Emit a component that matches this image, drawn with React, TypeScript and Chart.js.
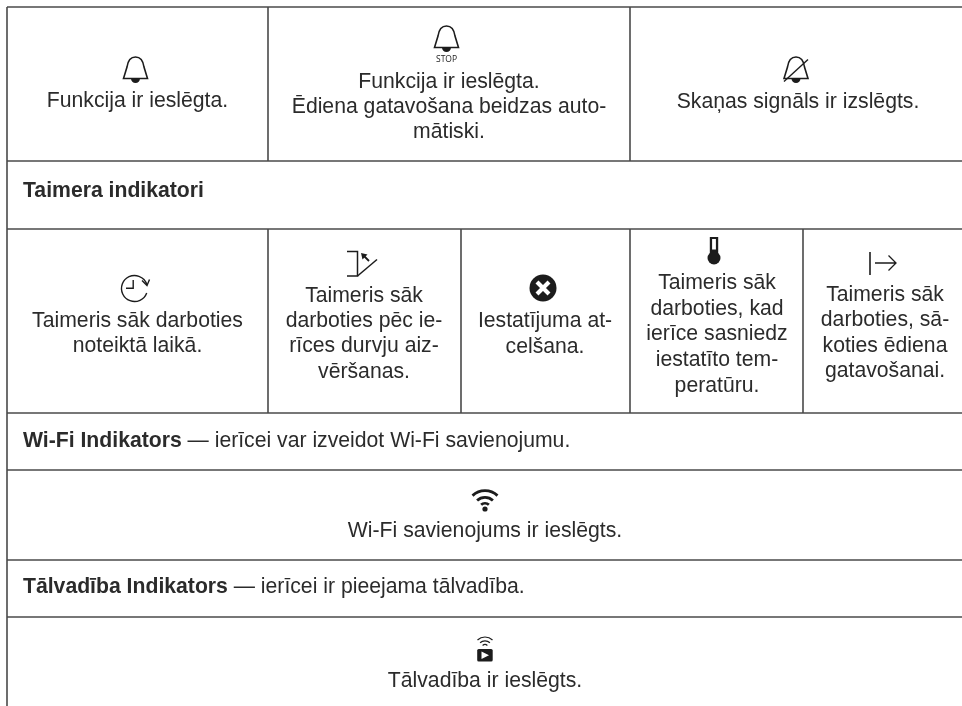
import React, { useEffect, useRef } from "react";
import { Chart, registerables } from "chart.js";

Chart.register(...registerables);

const pageWidth = 962;
const pageHeight = 706;
const tableLeft = 7;
const ruleColor = "#4a4a4a";
const inkColor = "#2b2b2b";
const fontFamily = '"Liberation Sans", Arial, sans-serif';
const fontSize = 21.2;

const horizontalRules = [7, 161, 229, 413, 470, 560, 617];
const verticalRules: [number, number, number][] = [
  [7, 7, 706],
  [268, 7, 161],
  [630, 7, 161],
  [268, 229, 413],
  [461, 229, 413],
  [630, 229, 413],
  [803, 229, 413],
];

const centredCells: { x: number; lines: [string, number][] }[] = [
  { x: 137.5, lines: [["Funkcija ir ieslēgta.", 107]] },
  {
    x: 449,
    lines: [
      ["Funkcija ir ieslēgta.", 88],
      ["Ēdiena gatavošana beidzas auto-", 113],
      ["mātiski.", 138],
    ],
  },
  { x: 798, lines: [["Skaņas signāls ir izslēgts.", 108]] },
  {
    x: 137.5,
    lines: [
      ["Taimeris sāk darboties", 327],
      ["noteiktā laikā.", 352],
    ],
  },
  {
    x: 364,
    lines: [
      ["Taimeris sāk", 302],
      ["darboties pēc ie-", 327],
      ["rīces durvju aiz-", 352],
      ["vēršanas.", 378],
    ],
  },
  {
    x: 545,
    lines: [
      ["Iestatījuma at-", 327],
      ["celšana.", 353],
    ],
  },
  {
    x: 717,
    lines: [
      ["Taimeris sāk", 289],
      ["darboties, kad", 315],
      ["ierīce sasniedz", 340],
      ["iestatīto tem-", 366],
      ["peratūru.", 392],
    ],
  },
  {
    x: 885,
    lines: [
      ["Taimeris sāk", 301],
      ["darboties, sā-", 326],
      ["koties ēdiena", 352],
      ["gatavošanai.", 377],
    ],
  },
  { x: 485, lines: [["Wi-Fi savienojums ir ieslēgts.", 537]] },
  { x: 485, lines: [["Tālvadība ir ieslēgts.", 687]] },
];

const headingRows: { x: number; y: number; bold: string; rest: string }[] = [
  { x: 23, y: 197, bold: "Taimera indikatori", rest: "" },
  { x: 23, y: 447, bold: "Wi-Fi Indikators", rest: " — ierīcei var izveidot Wi-Fi savienojumu." },
  { x: 23, y: 593, bold: "Tālvadība Indikators", rest: " — ierīcei ir pieejama tālvadība." },
];

type IconName = "bell" | "bellStop" | "bellMuted" | "clock" | "door" | "cancel" | "thermo" | "start" | "wifi" | "remote";
const icons: { name: IconName; x: number; y: number }[] = [
  { name: "bell", x: 135.5, y: 57 },
  { name: "bellStop", x: 446.5, y: 26 },
  { name: "bellMuted", x: 796, y: 57 },
  { name: "clock", x: 134.5, y: 288.5 },
  { name: "door", x: 347, y: 251 },
  { name: "cancel", x: 543, y: 288 },
  { name: "thermo", x: 714, y: 237 },
  { name: "start", x: 870, y: 252 },
  { name: "wifi", x: 485, y: 509 },
  { name: "remote", x: 485, y: 637 },
];

function bellPath(ctx: CanvasRenderingContext2D) {
  ctx.lineWidth = 1.6;
  ctx.beginPath();
  ctx.moveTo(-12, 21.5);
  ctx.lineTo(-8.5, 10);
  ctx.bezierCurveTo(-7.5, 3, -4.5, 0, 0, 0);
  ctx.bezierCurveTo(4.5, 0, 7.5, 3, 8.5, 10);
  ctx.lineTo(12, 21.5);
  ctx.closePath();
  ctx.stroke();
  ctx.beginPath();
  ctx.arc(0, 21.5, 4.5, 0, Math.PI);
  ctx.fill();
}

function drawIcon(ctx: CanvasRenderingContext2D, name: IconName) {
  ctx.strokeStyle = "#1c1c1c";
  ctx.fillStyle = "#1c1c1c";
  ctx.lineCap = "butt";
  ctx.lineJoin = "miter";
  if (name === "bell") bellPath(ctx);
  if (name === "bellStop") {
    bellPath(ctx);
    ctx.font = `8.5px "Open Sans", ${fontFamily}`;
    ctx.textAlign = "center";
    ctx.textBaseline = "alphabetic";
    ctx.fillText("STOP", 0, 36);
  }
  if (name === "bellMuted") {
    bellPath(ctx);
    ctx.lineWidth = 1.4;
    ctx.beginPath();
    ctx.moveTo(-12, 24.5);
    ctx.lineTo(12, 2.5);
    ctx.stroke();
  }
  if (name === "clock") {
    ctx.lineWidth = 1.4;
    ctx.beginPath();
    ctx.arc(0, 0, 13, 0.35, Math.PI * 2 - 0.3);
    ctx.stroke();
    ctx.beginPath();
    ctx.moveTo(-1.3, -8.5);
    ctx.lineTo(-1.3, -0.3);
    ctx.lineTo(-8.5, -0.3);
    ctx.stroke();
    ctx.beginPath();
    ctx.moveTo(7.5, -8);
    ctx.lineTo(12.5, -3);
    ctx.lineTo(15, -9);
    ctx.stroke();
  }
  if (name === "door") {
    ctx.lineWidth = 1.5;
    ctx.beginPath();
    ctx.moveTo(0, 0.5);
    ctx.lineTo(10.5, 0.5);
    ctx.lineTo(10.5, 25);
    ctx.lineTo(0, 25);
    ctx.stroke();
    ctx.beginPath();
    ctx.moveTo(10.5, 25);
    ctx.lineTo(30, 8.5);
    ctx.stroke();
    ctx.lineWidth = 1.8;
    ctx.beginPath();
    ctx.moveTo(22, 10);
    ctx.lineTo(16, 4);
    ctx.stroke();
    ctx.beginPath();
    ctx.moveTo(14, 2);
    ctx.lineTo(20.5, 3.5);
    ctx.lineTo(15.5, 8.5);
    ctx.closePath();
    ctx.fill();
  }
  if (name === "cancel") {
    ctx.beginPath();
    ctx.arc(0, 0, 13.5, 0, Math.PI * 2);
    ctx.fill();
    ctx.strokeStyle = "#ffffff";
    ctx.lineWidth = 4.2;
    ctx.beginPath();
    ctx.moveTo(-6, -6);
    ctx.lineTo(6, 6);
    ctx.moveTo(6, -6);
    ctx.lineTo(-6, 6);
    ctx.stroke();
  }
  if (name === "thermo") {
    ctx.fillRect(-4.2, 0, 8.4, 17);
    ctx.beginPath();
    ctx.arc(0, 21, 6.5, 0, Math.PI * 2);
    ctx.fill();
    ctx.fillStyle = "#ffffff";
    ctx.fillRect(-1.9, 2, 3.8, 10.5);
  }
  if (name === "start") {
    ctx.lineWidth = 1.6;
    ctx.beginPath();
    ctx.moveTo(0, 0);
    ctx.lineTo(0, 23);
    ctx.stroke();
    ctx.lineWidth = 1.3;
    ctx.beginPath();
    ctx.moveTo(5, 11);
    ctx.lineTo(26, 11);
    ctx.moveTo(18.5, 3.5);
    ctx.lineTo(26, 11);
    ctx.lineTo(18.5, 18.5);
    ctx.stroke();
  }
  if (name === "wifi") {
    ctx.beginPath();
    ctx.arc(0, 0, 2.6, 0, Math.PI * 2);
    ctx.fill();
    ctx.lineWidth = 2.8;
    [5.7, 11.6, 18.3].forEach((r) => {
      ctx.beginPath();
      ctx.arc(0, 0, r, -Math.PI / 2 - 0.75, -Math.PI / 2 + 0.75);
      ctx.stroke();
    });
  }
  if (name === "remote") {
    ctx.lineWidth = 1.2;
    [3.5, 7.2, 11].forEach((r) => {
      ctx.beginPath();
      ctx.arc(0, 11, r, -Math.PI / 2 - 0.75, -Math.PI / 2 + 0.75);
      ctx.stroke();
    });
    ctx.beginPath();
    ctx.roundRect(-7.8, 12, 15.5, 12.5, 1.5);
    ctx.fill();
    ctx.fillStyle = "#ffffff";
    ctx.beginPath();
    ctx.moveTo(-3.5, 14.5);
    ctx.lineTo(4, 18.2);
    ctx.lineTo(-3.5, 22);
    ctx.closePath();
    ctx.fill();
  }
}

const tablePlugin = {
  id: "tableText",
  afterDatasetsDraw(chart: any) {
    const { ctx, scales } = chart;
    const px = (v: number) => scales.x.getPixelForValue(v);
    const py = (v: number) => scales.y.getPixelForValue(v);
    ctx.save();
    ctx.textBaseline = "alphabetic";
    ctx.fillStyle = inkColor;
    ctx.textAlign = "center";
    ctx.font = `${fontSize}px ${fontFamily}`;
    centredCells.forEach((cell) => {
      cell.lines.forEach(([text, y]) => ctx.fillText(text, px(cell.x), py(y)));
    });
    ctx.textAlign = "left";
    headingRows.forEach((row) => {
      ctx.font = `bold ${fontSize}px ${fontFamily}`;
      ctx.fillText(row.bold, px(row.x), py(row.y));
      const w = ctx.measureText(row.bold).width;
      ctx.font = `${fontSize}px ${fontFamily}`;
      if (row.rest) ctx.fillText(row.rest, px(row.x) + w, py(row.y));
    });
    icons.forEach((icon) => {
      ctx.save();
      ctx.translate(px(icon.x), py(icon.y));
      drawIcon(ctx, icon.name);
      ctx.restore();
    });
    ctx.restore();
  },
};

export default function App() {
  const ref = useRef<HTMLCanvasElement>(null);
  useEffect(() => {
    if (!ref.current) return;
    const ruleStyle = { showLine: true, pointRadius: 0, borderColor: ruleColor, borderWidth: 1.6, fill: false };
    const datasets = [
      ...horizontalRules.map((y) => ({
        ...ruleStyle,
        label: `h${y}`,
        data: [
          { x: tableLeft, y },
          { x: pageWidth, y },
        ],
      })),
      ...verticalRules.map(([x, y0, y1]) => ({
        ...ruleStyle,
        label: `v${x}-${y0}`,
        data: [
          { x, y: y0 },
          { x, y: y1 },
        ],
      })),
    ];
    const chart = new Chart(ref.current, {
      type: "scatter",
      data: { datasets },
      options: {
        responsive: false,
        animation: false,
        events: [],
        layout: { padding: 0 },
        plugins: { legend: { display: false }, tooltip: { enabled: false }, title: { display: false } },
        scales: {
          x: { type: "linear", display: false, min: 0, max: pageWidth },
          y: { type: "linear", display: false, min: 0, max: pageHeight, reverse: true },
        },
      },
      plugins: [tablePlugin],
    } as any);
    return () => chart.destroy();
  }, []);
  return (
    <div style={{ position: "absolute", left: 0, top: 0, width: pageWidth, height: pageHeight, background: "#fff" }}>
      <canvas ref={ref} width={pageWidth} height={pageHeight} style={{ display: "block" }} />
    </div>
  );
}
